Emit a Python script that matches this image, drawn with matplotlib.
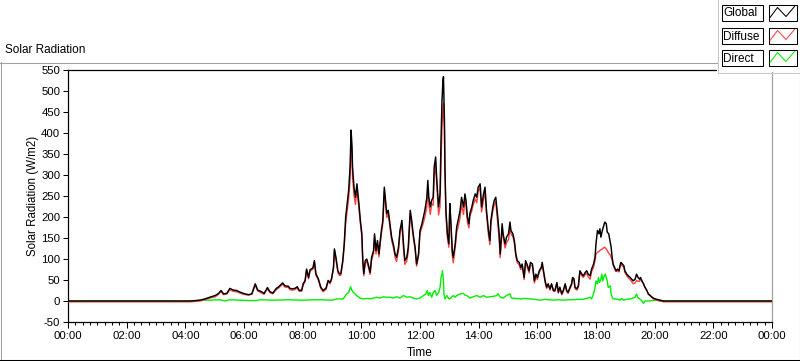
import matplotlib
matplotlib.use("Agg")
import matplotlib.pyplot as plt
from matplotlib.patches import Rectangle
from matplotlib.lines import Line2D
import numpy as np

plt.rcParams['font.family'] = ['Liberation Sans', 'DejaVu Sans']

# ---------------- data (time in minutes after midnight, W/m2) ----------------
time_min = [
    0, 250, 270, 280, 290, 301, 308, 313, 318, 325,
    331, 338, 345, 352, 359, 369, 376, 383, 388, 396,
    401, 408, 413, 419, 426, 430, 439, 444, 451, 454,
    459, 464, 469, 473, 478, 481, 485, 488, 492, 495,
    501, 504, 507, 512, 517, 522, 528, 532, 536, 539,
    543, 545, 548, 552, 555, 558, 562, 565, 568, 571,
    574, 577, 579, 581, 582, 585, 588, 591, 593, 595,
    598, 601, 603, 605, 608, 611, 614, 618, 621, 625,
    627, 630, 633, 636, 638, 641, 644, 647, 650, 652,
    655, 659, 662, 666, 669, 672, 676, 679, 683, 686,
    689, 693, 696, 700, 703, 706, 710, 713, 717, 720,
    724, 727, 730, 734, 736, 738, 741, 744, 747, 749,
    752, 754, 758, 761, 763, 765, 767, 768, 769, 770,
    771, 773, 776, 779, 781, 783, 786, 788, 792, 795,
    798, 802, 805, 809, 812, 814, 817, 820, 822, 826,
    829, 833, 836, 839, 843, 846, 850, 853, 856, 860,
    863, 865, 869, 872, 875, 877, 879, 882, 884, 886,
    888, 890, 894, 897, 901, 904, 906, 910, 913, 916,
    919, 923, 926, 929, 933, 936, 940, 943, 946, 950,
    954, 957, 960, 964, 968, 970, 972, 976, 979, 982,
    986, 989, 993, 996, 1000, 1003, 1006, 1010, 1013, 1017,
    1020, 1023, 1027, 1030, 1032, 1035, 1037, 1041, 1044, 1047,
    1051, 1054, 1058, 1061, 1064, 1068, 1071, 1075, 1078, 1080,
    1083, 1086, 1088, 1090, 1093, 1095, 1098, 1101, 1103, 1106,
    1109, 1111, 1113, 1115, 1118, 1121, 1124, 1127, 1129, 1131,
    1134, 1137, 1139, 1143, 1146, 1150, 1153, 1156, 1160, 1163,
    1166, 1169, 1171, 1174, 1177, 1180, 1184, 1187, 1191, 1197,
    1204, 1211, 1218, 1440,
]

global_rad = [
    0, 0, 2, 5, 9, 13, 18, 25, 17, 18,
    30, 26, 25, 21, 18, 15, 17, 41, 26, 22,
    18, 32, 22, 19, 30, 33, 43, 36, 35, 30,
    29, 30, 34, 25, 26, 41, 49, 76, 56, 74,
    79, 96, 65, 53, 33, 25, 31, 49, 44, 53,
    80, 124, 104, 72, 65, 65, 96, 136, 200, 232,
    263, 319, 407, 367, 319, 271, 247, 279, 255, 232,
    192, 160, 96, 65, 96, 100, 88, 68, 104, 120,
    160, 120, 144, 112, 136, 168, 192, 271, 232, 208,
    216, 180, 152, 132, 112, 104, 128, 168, 192, 140,
    96, 104, 128, 216, 192, 160, 128, 88, 112, 168,
    184, 200, 216, 247, 287, 247, 224, 240, 247, 319,
    343, 295, 224, 255, 383, 478, 526, 534, 478, 430,
    319, 216, 160, 136, 232, 192, 120, 104, 136, 176,
    192, 216, 247, 224, 255, 240, 200, 184, 208, 224,
    240, 255, 247, 271, 279, 224, 255, 271, 216, 168,
    144, 192, 224, 240, 247, 224, 200, 160, 112, 144,
    184, 160, 136, 152, 160, 188, 168, 160, 144, 112,
    96, 92, 80, 88, 56, 96, 84, 72, 92, 88,
    48, 64, 56, 72, 80, 92, 76, 48, 33, 41,
    29, 41, 25, 25, 44, 21, 33, 17, 25, 41,
    25, 21, 33, 41, 56, 53, 33, 29, 37, 72,
    64, 60, 68, 72, 64, 60, 76, 88, 104, 136,
    168, 160, 172, 152, 168, 176, 188, 184, 164, 160,
    140, 128, 104, 88, 80, 72, 76, 72, 84, 92,
    88, 84, 72, 64, 60, 56, 52, 48, 52, 64,
    56, 52, 56, 48, 41, 33, 25, 17, 13, 7,
    4, 2, 0, 0,
]

diffuse_rad = [
    -2, -2, 0, 3, 7, 10, 16, 23, 15, 17,
    27, 23, 22, 19, 16, 14, 16, 38, 24, 19,
    16, 29, 20, 17, 27, 30, 40, 33, 32, 27,
    26, 27, 31, 23, 23, 38, 46, 73, 53, 71,
    76, 93, 62, 50, 30, 22, 28, 46, 41, 50,
    77, 120, 100, 68, 61, 61, 91, 130, 186, 215,
    243, 290, 373, 342, 297, 251, 230, 266, 245, 222,
    185, 154, 91, 60, 90, 94, 83, 63, 98, 113,
    152, 112, 136, 105, 129, 160, 183, 262, 223, 199,
    207, 171, 144, 125, 104, 94, 119, 161, 181, 128,
    87, 95, 118, 206, 183, 153, 122, 83, 106, 161,
    175, 187, 200, 224, 266, 233, 206, 231, 228, 296,
    322, 282, 205, 225, 330, 414, 456, 470, 440, 405,
    312, 206, 152, 128, 226, 184, 109, 91, 127, 163,
    177, 199, 230, 206, 241, 227, 187, 174, 201, 215,
    230, 243, 234, 261, 270, 212, 242, 261, 207, 157,
    134, 182, 214, 230, 236, 211, 185, 145, 103, 136,
    175, 153, 126, 139, 146, 172, 160, 153, 138, 106,
    91, 86, 75, 82, 51, 90, 79, 67, 86, 83,
    43, 58, 51, 69, 77, 87, 72, 44, 30, 38,
    26, 39, 23, 23, 42, 19, 30, 15, 22, 38,
    22, 18, 30, 37, 52, 49, 29, 26, 33, 68,
    60, 56, 63, 66, 58, 52, 70, 80, 96, 112,
    116, 118, 120, 122, 124, 126, 128, 124, 120, 114,
    110, 104, 98, 86, 76, 70, 72, 69, 80, 88,
    83, 80, 68, 60, 55, 51, 46, 41, 43, 49,
    47, 47, 53, 46, 42, 33, 25, 16, 12, 5,
    2, 0, -2, -2,
]

direct_time_min = [
    0, 262, 270, 290, 310, 322, 330, 350, 372, 384,
    395, 420, 450, 480, 510, 540, 550, 563, 570, 574,
    578, 581, 584, 587, 590, 594, 597, 604, 611, 618,
    625, 631, 638, 645, 652, 659, 665, 672, 679, 686,
    693, 700, 706, 713, 720, 727, 732, 735, 737, 740,
    744, 747, 751, 754, 758, 761, 763, 765, 766, 768,
    769, 771, 775, 778, 781, 785, 788, 792, 795, 802,
    809, 812, 816, 822, 829, 836, 843, 850, 856, 863,
    870, 877, 880, 884, 890, 897, 904, 907, 915, 925,
    935, 945, 955, 966, 975, 985, 993, 1003, 1013, 1023,
    1033, 1043, 1053, 1061, 1068, 1071, 1075, 1078, 1080, 1083,
    1085, 1087, 1090, 1092, 1094, 1097, 1099, 1101, 1103, 1105,
    1109, 1111, 1113, 1115, 1122, 1129, 1133, 1136, 1143, 1150,
    1156, 1160, 1163, 1165, 1169, 1173, 1177, 1180, 1187, 1204,
    1211, 1440,
]

direct_rad = [
    0, 0, 2, 2, 3, 0, 3, 2, 1, 1,
    3, 2, 3, 2, 3, 2, 5, 5, 17, 20,
    34, 25, 20, 17, 13, 10, 7, 5, 6, 5,
    7, 9, 7, 10, 9, 9, 7, 10, 7, 13,
    9, 10, 7, 5, 7, 13, 17, 25, 13, 20,
    9, 20, 25, 13, 20, 32, 56, 64, 72, 48,
    17, 5, 13, 7, 5, 10, 13, 9, 13, 17,
    18, 14, 13, 7, 10, 13, 9, 13, 9, 10,
    11, 13, 17, 9, 7, 13, 17, 7, 6, 5,
    6, 5, 4, 2, 4, 3, 2, 3, 2, 3,
    3, 4, 4, 6, 9, 5, 17, 32, 48, 41,
    56, 44, 52, 64, 48, 60, 64, 56, 48, 32,
    36, 17, 9, 5, 5, 2, 6, 2, 4, 5,
    7, 9, 17, 9, 5, 2, -6, 0, 0, 2,
    0, 0,
]

series_names = ["Global", "Diffuse", "Direct"]
series_colors = ["#000000", "#ff4040", "#00f000"]

x_tick_hours = [0, 2, 4, 6, 8, 10, 12, 14, 16, 18, 20, 22, 24]
x_tick_labels = ["00:00", "02:00", "04:00", "06:00", "08:00", "10:00", "12:00",
                 "14:00", "16:00", "18:00", "20:00", "22:00", "00:00"]
y_ticks = [-50, 0, 50, 100, 150, 200, 250, 300, 350, 400, 450, 500, 550]

# ---------------- figure ----------------
W, H = 800, 361
fig = plt.figure(figsize=(W / 100, H / 100), dpi=100)
fig.patch.set_facecolor("white")


def fx(px):
    return px / W


def fy(py):
    return 1 - py / H


ax = fig.add_axes([fx(68), fy(322), fx(772) - fx(68), fy(70) - fy(322)])
ax.plot(np.array(direct_time_min) / 60.0, direct_rad, color=series_colors[2], lw=1.0, zorder=2)
ax.plot(np.array(time_min) / 60.0, diffuse_rad, color=series_colors[1], lw=1.0, zorder=3)
ax.plot(np.array(time_min) / 60.0, global_rad, color=series_colors[0], lw=1.05, zorder=4)

ax.set_xlim(0, 24)
ax.set_ylim(-50, 550)
ax.set_xticks(x_tick_hours)
ax.set_xticklabels(x_tick_labels)
ax.set_xticks(np.arange(0, 24.01, 0.25), minor=True)
ax.set_yticks(y_ticks)
ax.set_yticklabels([str(v) for v in y_ticks])

ax.tick_params(axis="both", which="both", direction="out", colors="black",
               labelsize=8.2, width=0.75)
ax.tick_params(axis="y", which="major", length=3.6, pad=2)
ax.tick_params(axis="x", which="major", length=4.0, pad=2.5)
ax.tick_params(axis="x", which="minor", length=2.4)
for s in ["left", "top", "bottom"]:
    ax.spines[s].set_color("black")
    ax.spines[s].set_linewidth(0.9)
ax.spines["right"].set_color("#a0a0a0")
ax.spines["right"].set_linewidth(0.9)

fig.text(fx(5), fy(50), "Solar Radiation", ha="left", va="center", fontsize=8.5)
fig.text(fx(33), fy(196), "Solar Radiation (W/m2)", ha="center", va="center",
         rotation=90, fontsize=8.3)
fig.text(fx(420), fy(353), "Time", ha="center", va="center", fontsize=8.5)

# ---------------- overlay: frame + legend (pixel coords) ----------------
ov = fig.add_axes([0, 0, 1, 1], zorder=10)
ov.set_xlim(0, W)
ov.set_ylim(H, 0)
ov.axis("off")
ov.patch.set_alpha(0)

gray = "#a0a0a0"
ov.add_line(Line2D([0, 717], [62.5, 62.5], color=gray, lw=0.75))
ov.add_line(Line2D([0.5, 0.5], [62, 359], color=gray, lw=0.75))
ov.add_line(Line2D([0, 800], [359.5, 359.5], color="black", lw=0.75))
ov.add_line(Line2D([799.5, 799.5], [72, 360], color="black", lw=0.75))

ov.add_patch(Rectangle((717, 0), 83, 72, facecolor="white", edgecolor="none"))
ov.add_line(Line2D([717.5, 717.5], [0, 72.5], color="#c8c8c8", lw=0.75))
ov.add_line(Line2D([717.5, 800], [72.5, 72.5], color="#c8c8c8", lw=0.75))

row_tops = [4, 27, 49]
for name, col, top in zip(series_names, series_colors, row_tops):
    ov.add_patch(Rectangle((721.5, top + 0.5), 41.5, 16, facecolor="white",
                           edgecolor="black", lw=0.75))
    ov.text(723.5, top + 9.5, name, ha="left", va="center", fontsize=8.5)
    ov.add_patch(Rectangle((768.5, top + 0.5), 28, 16, facecolor="white",
                           edgecolor="black", lw=0.75))
    ov.add_line(Line2D([770, 777.5, 786, 794.5],
                       [top + 13.5, top + 3.5, top + 12.5, top + 2.5],
                       color=col, lw=0.75))

fig.savefig("out.png", dpi=100, facecolor="white")
